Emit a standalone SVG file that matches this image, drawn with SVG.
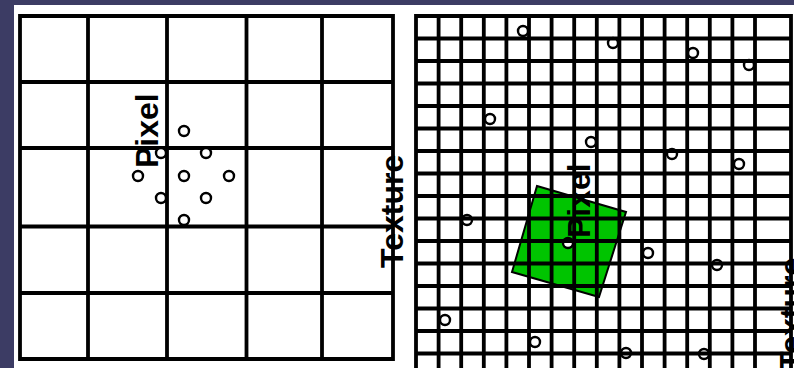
<svg xmlns="http://www.w3.org/2000/svg" width="794" height="368" viewBox="0 0 794 368">
<defs>
<style>
.bg{fill:#3c3c64}
.panel{fill:#ffffff}
.grid{fill:none;stroke:#000;stroke-width:3.8;stroke-linecap:square}
.dot{fill:#fff;stroke:#000;stroke-width:2.4}
.lbl{font-family:"Liberation Sans",Arial,sans-serif;font-size:32px;font-weight:bold;fill:#000}
.pix{fill:#00c400;stroke:#000;stroke-width:2}
</style>
</defs>
<rect class="bg" x="0" y="0" width="794" height="368"/>
<rect class="panel" x="14" y="5" width="780" height="363"/>

<g id="left-grid">
<path class="grid" d="M20,16H393V359H20Z M88,16V359 M167,16V359 M246.5,16V359 M322,16V359 M20,82H393 M20,148H393 M20,226.5H393 M20,293H393"/>
</g>
<g id="left-samples">
<circle class="dot" cx="184" cy="131" r="5"/>
<circle class="dot" cx="161" cy="153" r="5"/>
<circle class="dot" cx="206" cy="153" r="5"/>
<circle class="dot" cx="138" cy="176" r="5"/>
<circle class="dot" cx="184" cy="176" r="5"/>
<circle class="dot" cx="229" cy="176" r="5"/>
<circle class="dot" cx="161" cy="198" r="5"/>
<circle class="dot" cx="206" cy="198" r="5"/>
<circle class="dot" cx="184" cy="220" r="5"/>
</g>
<g id="left-pixel-label">
<text class="lbl" transform="translate(158,168) rotate(-90)">Pixel</text>
</g>

<g id="right-pixel">
<polygon class="pix" points="537,186 626,212 599,297 512,272"/>
</g>
<g id="right-samples">
<circle class="dot" cx="523" cy="31" r="5"/>
<circle class="dot" cx="613" cy="43" r="5"/>
<circle class="dot" cx="693" cy="53" r="5"/>
<circle class="dot" cx="749" cy="65" r="5"/>
<circle class="dot" cx="490" cy="119" r="5"/>
<circle class="dot" cx="591" cy="142" r="5"/>
<circle class="dot" cx="672" cy="154" r="5"/>
<circle class="dot" cx="739" cy="164" r="5"/>
<circle class="dot" cx="467" cy="220" r="5"/>
<circle class="dot" cx="568" cy="243" r="5"/>
<circle class="dot" cx="648" cy="253" r="5"/>
<circle class="dot" cx="717" cy="265" r="5"/>
<circle class="dot" cx="445" cy="320" r="5"/>
<circle class="dot" cx="535" cy="342" r="5"/>
<circle class="dot" cx="626" cy="353" r="5"/>
<circle class="dot" cx="704" cy="354" r="5"/>
</g>
<g id="right-grid">
<path class="grid" d="M416,16V380 M438.6,16V380 M461.2,16V380 M483.8,16V380 M506.4,16V380 M529,16V380 M551.6,16V380 M574.2,16V380 M596.8,16V380 M619.4,16V380 M642,16V380 M664.6,16V380 M687.2,16V380 M709.8,16V380 M732.4,16V380 M755,16V380 M791,16V380
M416,16H791 M416,38.5H791 M416,61H791 M416,83.5H791 M416,106H791 M416,128.5H791 M416,151H791 M416,173.5H791 M416,196H791 M416,218.5H791 M416,241H791 M416,263.5H791 M416,286H791 M416,308.5H791 M416,331H791 M416,353.5H791 M416,376H791"/>
</g>
<g id="right-pixel-label">
<text class="lbl" transform="translate(590,238) rotate(-90)">Pixel</text>
</g>
<g id="texture-labels">
<text class="lbl" transform="translate(403,268) rotate(-90)">Texture</text>
<text class="lbl" transform="translate(802,371) rotate(-90)">Texture</text>
</g>
</svg>
